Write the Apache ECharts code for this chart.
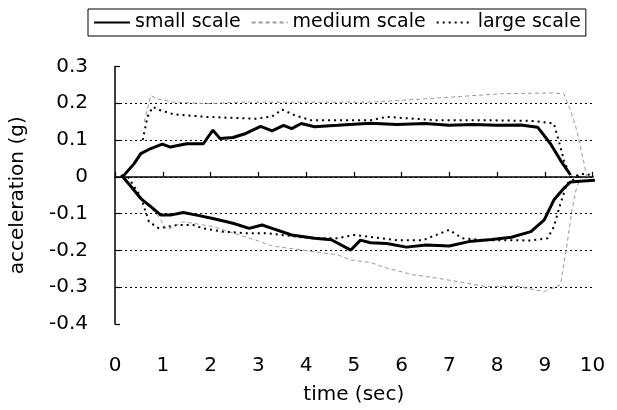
<!DOCTYPE html>
<html>
<head>
<meta charset="utf-8">
<script src="https://cdn.jsdelivr.net/npm/echarts@6/dist/echarts.min.js"></script>
<style>
html,body{margin:0;padding:0;background:#fff;}
#chart{width:617px;height:410px;}
</style>
</head>
<body>
<div id="chart"></div>
<script>
// ---- data ----
const xTicks = [0,1,2,3,4,5,6,7,8,9,10];
const yTicks = [-0.4,-0.3,-0.2,-0.1,0,0.1,0.2,0.3];

const smallUpperT = [0.16,0.4,0.54,0.75,0.99,1.16,1.5,1.85,2.05,2.2,2.47,2.74,3.05,3.29,3.53,3.7,3.9,4.18,4.66,5.35,5.9,6.5,7.0,7.5,8.0,8.5,8.85,9.12,9.33,9.54];
const smallUpperY = [0.0,0.036,0.063,0.077,0.089,0.081,0.09,0.09,0.127,0.104,0.107,0.118,0.137,0.125,0.14,0.131,0.145,0.136,0.14,0.146,0.142,0.145,0.14,0.142,0.14,0.141,0.135,0.09,0.045,0.005];
const smallLowerT = [0.13,0.34,0.54,0.75,0.96,1.16,1.43,1.71,2.05,2.47,2.81,3.08,3.29,3.7,4.18,4.53,4.94,5.14,5.35,5.69,6.1,6.52,7.0,7.41,7.89,8.3,8.71,8.99,9.19,9.4,9.54,9.81,10.05];
const smallLowerY = [0.005,-0.027,-0.059,-0.081,-0.104,-0.104,-0.097,-0.104,-0.113,-0.126,-0.14,-0.131,-0.14,-0.158,-0.167,-0.171,-0.199,-0.172,-0.179,-0.181,-0.191,-0.185,-0.188,-0.176,-0.17,-0.164,-0.149,-0.117,-0.063,-0.031,-0.014,-0.011,-0.009];

const mediumUpperT = [0.61,0.75,0.89,1.23,1.92,2.6,3.29,4.0,4.66,5.35,6.0,7.06,8.09,9.12,9.4,9.54,9.67,9.81,9.88];
const mediumUpperY = [0.149,0.221,0.212,0.203,0.199,0.203,0.203,0.203,0.203,0.203,0.208,0.217,0.226,0.228,0.226,0.181,0.127,0.045,0.0];
const mediumLowerT = [0.2,0.44,0.89,1.09,1.43,2.05,2.6,2.95,3.29,3.98,4.66,4.94,5.35,5.69,6.24,6.72,7.2,7.75,8.44,8.99,9.33,9.47,9.57,9.67,9.74];
const mediumLowerY = [0.0,-0.045,-0.104,-0.144,-0.122,-0.135,-0.158,-0.172,-0.188,-0.2,-0.212,-0.226,-0.233,-0.248,-0.266,-0.275,-0.285,-0.298,-0.298,-0.312,-0.293,-0.181,-0.09,-0.027,-0.009];

const largeUpperT = [0.58,0.68,0.79,0.95,1.23,1.92,2.95,3.29,3.5,3.77,4.11,4.66,5.35,5.69,6.72,7.75,8.78,9.19,9.33,9.4,9.54,9.85,10.05];
const largeUpperY = [0.1,0.163,0.19,0.181,0.17,0.163,0.158,0.164,0.183,0.167,0.154,0.154,0.154,0.163,0.154,0.154,0.152,0.145,0.081,0.045,0.0,0.009,0.0];
const largeLowerT = [0.27,0.54,0.71,0.92,1.3,1.64,1.85,2.26,2.74,3.15,3.5,4.11,4.66,5.0,5.35,5.9,6.45,7.0,7.27,7.75,8.23,8.71,9.06,9.19,9.26,9.33,9.47,9.81];
const largeLowerY = [0.0,-0.054,-0.122,-0.14,-0.131,-0.131,-0.14,-0.149,-0.153,-0.153,-0.158,-0.167,-0.167,-0.158,-0.163,-0.172,-0.172,-0.144,-0.167,-0.172,-0.172,-0.173,-0.167,-0.136,-0.104,-0.072,-0.018,0.009];

const seriesNames = ['small scale','medium scale','large scale'];

// ---- build ----
const zip = (t, y) => t.map((v, i) => [v, y[i]]);
const FONT = 'DejaVu Sans';

const styles = {
  'small scale':  {color:'#000', width:3, type:'solid'},
  'medium scale': {color:'#9a9a9a', width:1, type:[4,3]},
  'large scale':  {color:'#000', width:2, type:[2,4]}
};

function mk(name, t, y) {
  const s = styles[name];
  return {
    name: name, type: 'line', data: zip(t, y),
    symbol: 'none', smooth: false,
    lineStyle: {color: s.color, width: s.width, type: s.type},
    itemStyle: {color: s.color},
    emphasis: {disabled: true},
    animation: false
  };
}

const chart = echarts.init(document.getElementById('chart'), null, {renderer:'canvas'});
chart.setOption({
  backgroundColor: '#fff',
  animation: false,
  legend: {
    data: seriesNames,
    left: 88, top: 9,
    borderColor: '#000', borderWidth: 1,
    padding: [4, 5],
    itemWidth: 36, itemHeight: 12, itemGap: 10,
    itemStyle: {opacity: 0},
    textStyle: {fontFamily: FONT, fontSize: 19, color: '#000'}
  },
  grid: {left: 107, right: 24.5, top: 66.5, bottom: 85},
  xAxis: {
    type: 'value', min: xTicks[0], max: xTicks[xTicks.length-1], interval: 1,
    name: 'time (sec)', nameLocation: 'middle', nameGap: 61,
    nameTextStyle: {fontFamily: FONT, fontSize: 20, color: '#000'},
    axisLine: {lineStyle: {color: '#000', width: 1.5}},
    axisTick: {inside: true, length: 5, lineStyle: {color: '#000', width: 1.2}},
    axisLabel: {fontFamily: FONT, fontSize: 20, color: '#000', margin: 32},
    splitLine: {show: false}
  },
  yAxis: {
    type: 'value', min: yTicks[0], max: yTicks[yTicks.length-1], interval: 0.1,
    name: 'acceleration (g)', nameLocation: 'middle', nameGap: 87, nameRotate: 90,
    nameTextStyle: {fontFamily: FONT, fontSize: 20, color: '#000'},
    axisLine: {show: true, lineStyle: {color: '#000', width: 1.5}},
    axisTick: {show: true, inside: true, length: 5, lineStyle: {color: '#000', width: 1.2}},
    axisLabel: {fontFamily: FONT, fontSize: 20, color: '#000', margin: 27,
      formatter: v => { const r = Math.round(v*10)/10; return r === 0 ? '0' : r.toFixed(1); }},
    splitLine: {show: true, showMaxLine: false, showMinLine: false,
      lineStyle: {color: '#000', width: 1, type: [2,3]}}
  },
  series: [
    mk('medium scale', mediumUpperT, mediumUpperY),
    mk('medium scale', mediumLowerT, mediumLowerY),
    mk('large scale', largeUpperT, largeUpperY),
    mk('large scale', largeLowerT, largeLowerY),
    mk('small scale', smallUpperT, smallUpperY),
    mk('small scale', smallLowerT, smallLowerY)
  ]
});
</script>
</body>
</html>
